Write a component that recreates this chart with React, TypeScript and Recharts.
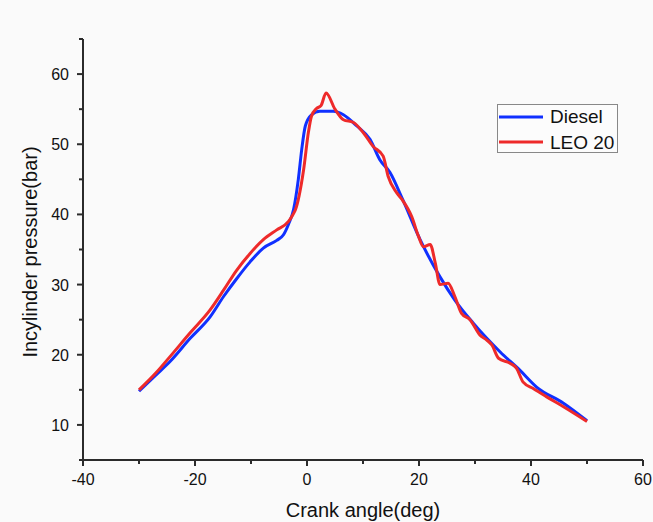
import { LineChart, Line, XAxis, YAxis } from "recharts";

// crank angle (deg) / pressure (bar)
const dieselAngle = [-30, -27, -24.5, -20.9, -17.3, -14.9, -12.6, -10.2, -7.8, -5.4, -4.2, -3.3, -2.4, -1.55, -0.95, -0.3, 0.8, 2.3, 4.7, 6.5, 8.9, 11.25, 13, 14.8, 17.1, 20.2, 23.75, 26.4, 29.7, 34.5, 38, 41, 45.8, 50];
const dieselPressure = [14.8, 17.1, 19.0, 22.3, 25.4, 28.3, 30.8, 33.2, 35.2, 36.3, 37.1, 38.6, 40.7, 45.0, 49.2, 52.6, 54.2, 54.7, 54.7, 54.2, 52.6, 50.7, 47.8, 46.0, 42.1, 36.4, 31.1, 27.8, 24.5, 20.4, 17.8, 15.4, 13.1, 10.6];

const leoAngle = [-30, -27, -24.5, -20.9, -17.3, -14.9, -12.6, -10.2, -7.8, -5.4, -3.3, -2.5, -2.1, -0.6, 0.25, 0.8, 1.7, 2.5, 3.4, 5, 6.5, 8.3, 10.1, 11.8, 13.6, 14.5, 16, 17, 18.7, 19.9, 20.8, 22, 22.9, 23.75, 25.2, 26.4, 27.6, 29.1, 30.9, 32.1, 33, 34.2, 36.25, 37.4, 38.6, 40.4, 42.8, 45.8, 50];
const leoPressure = [15.0, 17.4, 19.7, 23.1, 26.4, 29.2, 32.0, 34.4, 36.4, 37.8, 39.0, 40.0, 40.6, 46.4, 51.7, 54.0, 55.1, 55.5, 57.3, 55.0, 53.5, 53.1, 51.6, 49.7, 48.3, 45.4, 43.1, 42.1, 39.7, 36.9, 35.4, 35.7, 33.1, 30.0, 30.2, 28.3, 25.9, 25.0, 22.8, 22.1, 21.4, 19.5, 18.8, 18.1, 16.1, 15.2, 14.0, 12.6, 10.5];

const xTicks = [-40, -30, -20, -10, 0, 10, 20, 30, 40, 50, 60];
const yTicks = [5, 10, 15, 20, 25, 30, 35, 40, 45, 50, 55, 60, 65];

const diesel = dieselAngle.map((a, i) => ({ angle: a, p: dieselPressure[i] }));
const leo = leoAngle.map((a, i) => ({ angle: a, p: leoPressure[i] }));

const FONT = "Arial, 'Liberation Sans', sans-serif";
const AXIS = "#2b2b2b";
const BLUE = "#1030ff";
const RED = "#ee2a2a";

const XTick = (props: any) => {
  const { x, y, payload } = props;
  const major = payload.value % 20 === 0;
  return (
    <g>
      <line x1={x} y1={y} x2={x} y2={y + (major ? 6 : 4)} stroke={AXIS} strokeWidth={2} />
      {major ? (
        <text x={x} y={y + 25} textAnchor="middle" fontSize={16} fontFamily={FONT} fill="#111">
          {payload.value}
        </text>
      ) : null}
    </g>
  );
};

const YTick = (props: any) => {
  const { x, y, payload } = props;
  const major = payload.value % 10 === 0;
  return (
    <g>
      <line x1={x - (major ? 6 : 4)} y1={y} x2={x} y2={y} stroke={AXIS} strokeWidth={2} />
      {major ? (
        <text x={x - 14} y={y + 6} textAnchor="end" fontSize={16} fontFamily={FONT} fill="#111">
          {payload.value}
        </text>
      ) : null}
    </g>
  );
};

function LegendBox() {
  return (
    <svg width={122} height={50} style={{ position: "absolute", left: 497, top: 104 }}>
      <rect x={0.5} y={0.5} width={120} height={48} fill="#fcfcfc" stroke="#888" />
      <line x1={2} y1={13} x2={46} y2={13} stroke={BLUE} strokeWidth={3} />
      <text x={53} y={19} fontSize={19} fontFamily={FONT} fill="#111">Diesel</text>
      <line x1={2} y1={38} x2={46} y2={38} stroke={RED} strokeWidth={3} />
      <text x={53} y={45} fontSize={19} fontFamily={FONT} fill="#111">LEO 20</text>
    </svg>
  );
}

export default function App() {
  return (
    <div style={{ position: "fixed", left: 0, top: 0, width: 653, height: 522, background: "#fafafa" }}>
      <LineChart width={653} height={522} margin={{ top: 39, right: 10, bottom: 0, left: 0 }}>
        <XAxis
          dataKey="angle"
          type="number"
          domain={[-40, 60]}
          ticks={xTicks}
          interval={0}
          height={62}
          tickSize={0}
          tickMargin={0}
          tickLine={false}
          tick={<XTick />}
          axisLine={{ stroke: AXIS, strokeWidth: 2 }}
          allowDataOverflow
        />
        <YAxis
          type="number"
          domain={[5, 65]}
          ticks={yTicks}
          interval={0}
          width={83}
          tickSize={0}
          tickMargin={0}
          tickLine={false}
          tick={<YTick />}
          axisLine={{ stroke: AXIS, strokeWidth: 2 }}
          allowDataOverflow
        />
        <Line
          data={diesel}
          dataKey="p"
          name="Diesel"
          type="monotone"
          stroke={BLUE}
          strokeWidth={3}
          dot={false}
          isAnimationActive={false}
        />
        <Line
          data={leo}
          dataKey="p"
          name="LEO 20"
          type="monotone"
          stroke={RED}
          strokeWidth={3}
          dot={false}
          isAnimationActive={false}
        />
        <text x={363} y={517} textAnchor="middle" fontSize={20} fontFamily={FONT} fill="#111">
          Crank angle(deg)
        </text>
        <text
          x={37}
          y={252}
          textAnchor="middle"
          fontSize={20}
          fontFamily={FONT}
          fill="#111"
          transform="rotate(-90 37 252)"
        >
          Incylinder pressure(bar)
        </text>
      </LineChart>
      <LegendBox />
    </div>
  );
}
